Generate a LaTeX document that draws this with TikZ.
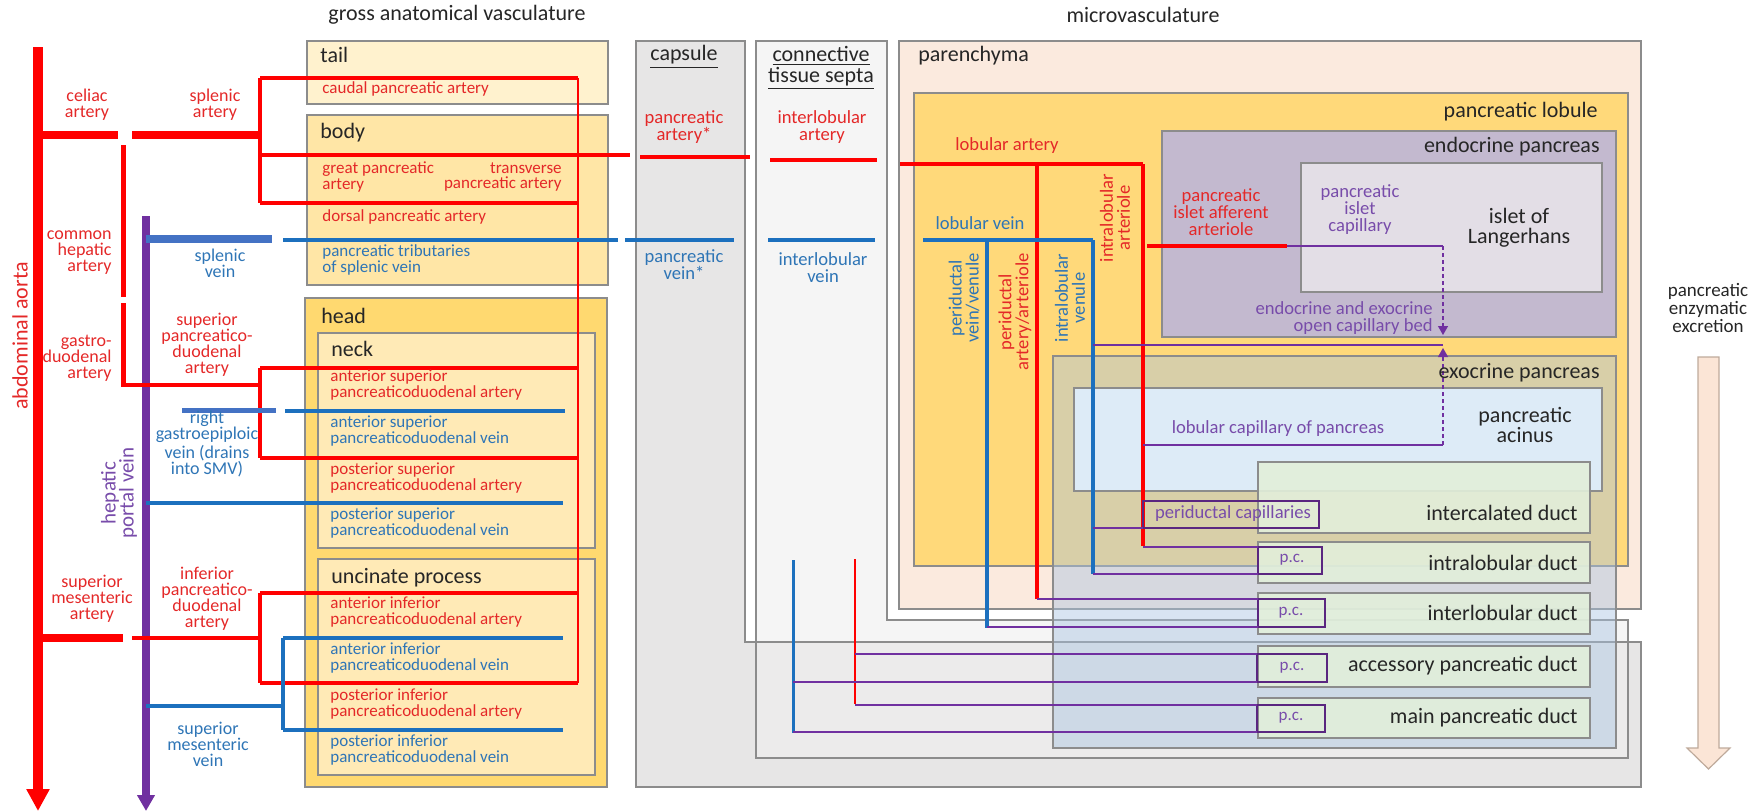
\documentclass[tikz,border=0pt]{standalone}
\usepackage{fontspec}
\setmainfont{Carlito}
\usetikzlibrary{arrows.meta,positioning,calc}
%% colours
\definecolor{artred}{RGB}{255,0,0}
\definecolor{artlbl}{RGB}{228,40,40}
\definecolor{vnblue}{RGB}{28,112,190}
\definecolor{vnthick}{RGB}{68,114,196}
\definecolor{vnlbl}{RGB}{46,117,182}
\definecolor{cappur}{RGB}{112,48,160}
\definecolor{caplbl}{RGB}{120,76,170}
\definecolor{boxline}{RGB}{140,140,140}
\definecolor{tailfill}{RGB}{255,242,206}
\definecolor{bodyfill}{RGB}{255,230,166}
\definecolor{headfill}{RGB}{255,217,112}
\definecolor{neckfill}{RGB}{255,234,182}
\definecolor{capsfill}{RGB}{231,230,230}
\definecolor{septfill}{RGB}{239,239,239}
\definecolor{parfill}{RGB}{251,234,222}
\definecolor{lobfill}{RGB}{255,217,122}
\definecolor{endofill}{RGB}{195,185,207}
\definecolor{isletfill}{RGB}{227,222,230}
\definecolor{exofill}{RGB}{169,196,226}
\definecolor{acinfill}{RGB}{221,235,247}
\definecolor{ductfill}{RGB}{226,239,218}
\definecolor{excrfill}{RGB}{251,229,214}
\definecolor{excrline}{RGB}{190,170,155}
\newcommand{\pcd}{pancreaticoduodenal}

\begin{document}
\begin{tikzpicture}
[x=0.5pt,y=-0.5pt,
 region/.style={draw=boxline,line width=0.6pt},
 ttl/.style={inner sep=0pt,font=\fontsize{11}{10}\selectfont,text=black!85},
 vlbl/.style={inner sep=0pt,font=\fontsize{9}{8}\selectfont,align=center},
 blbl/.style={inner sep=0pt,font=\fontsize{8.5}{7.6}\selectfont,anchor=west,align=left},
 mlbl/.style={inner sep=0pt,font=\fontsize{9.3}{8.5}\selectfont,align=center},
 artxt/.style={text=artlbl},
 vntxt/.style={text=vnlbl},
 cptxt/.style={text=caplbl},
 artery/.style={draw=artred,line width=1.7pt},
 vein/.style={draw=vnblue,line width=1.7pt},
 capil/.style={draw=cappur,line width=0.6pt},
 pcbox/.style={draw=cappur!80!black,line width=0.6pt}]
\useasboundingbox (0,0) rectangle (1762,811);
%%
%% microvasculature regions
\path[region,fill=capsfill] (636,41) -- (745,41) -- (745,642) -- (1641,642) -- (1641,787) -- (636,787) -- cycle;
\path[region,fill=septfill,fill opacity=0.64] (756,41) -- (887,41) -- (887,620) -- (1628,620) -- (1628,758) -- (756,758) -- cycle;
\draw[region] (756,642) -- (1628,642);
\path[region,fill=parfill] (899,41) rectangle (1641,609);
\path[region,fill=lobfill] (914,93) rectangle (1628,566);
\path[region,fill=endofill] (1162,131) rectangle (1616,337);
\path[region,fill=isletfill] (1301,163) rectangle (1602,292);
\path[region,fill=exofill,fill opacity=0.45] (1053,356) rectangle (1616,748);
\path[region,fill=acinfill] (1074,388) rectangle (1602,491);
\foreach \ya/\yb in {462/533,542/583,593/634,646/687,698/738}
  \path[region,fill=ductfill,fill opacity=0.9] (1258,\ya) rectangle (1590,\yb);
%% gross anatomy regions
\path[region,fill=tailfill] (307,41) rectangle (608,104);
\path[region,fill=bodyfill] (307,115) rectangle (608,285);
\path[region,fill=headfill] (305,298) rectangle (607,787);
\path[region,fill=neckfill] (318,333) rectangle (595,548);
\path[region,fill=neckfill] (318,559) rectangle (595,775);
%%
%% aorta and portal vein
\draw[artery,line width=5pt,-{Triangle[width=11pt,length=11pt]}] (38,47) -- (38,811);
\draw[draw=cappur,line width=4pt,-{Triangle[width=8.5pt,length=8pt]}] (146,216) -- (146,811);
%% celiac trunk
\draw[artery,line width=4pt] (38,135) -- (118,135);
\draw[artery,line width=4pt] (132,135) -- (260,135);
\draw[artery] (260,78) -- (260,203);
\foreach \yy in {78,203} \draw[artery] (260,\yy) -- (578,\yy);
\draw[artery] (260,155) -- (630,155);
\draw[artery,line width=0.8pt] (578,78) -- (578,683);
\draw[artery,line width=2.5pt] (123,145) -- (123,297);
\draw[artery,line width=2.5pt] (123,303) -- (123,387);
\draw[artery,line width=2pt] (123,385) -- (260,385);
\draw[artery] (260,368) -- (260,458);
\foreach \yy in {368,458} \draw[artery] (260,\yy) -- (578,\yy);
%% superior mesenteric artery
\draw[artery,line width=4pt] (38,638) -- (123,638);
\draw[artery,line width=2pt] (132,638) -- (260,638);
\draw[artery] (260,593) -- (260,683);
\foreach \yy in {593,683} \draw[artery] (260,\yy) -- (578,\yy);
%% veins
\draw[draw=vnthick,line width=4pt] (146,239) -- (272,239);
\draw[vein] (283,240) -- (618,240);
\draw[draw=vnthick,line width=2.5pt] (182,410) -- (276,410);
\draw[vein] (285,411) -- (565,411);
\draw[vein] (146,503) -- (563,503);
\draw[vein] (146,706) -- (283,706);
\draw[vein] (283,638) -- (283,730);
\foreach \yy in {638,730} \draw[vein] (283,\yy) -- (563,\yy);
%%
%% capsule and septa vessels
\draw[artery,line width=2pt] (640,157) -- (750,157);
\draw[artery,line width=2pt] (770,160) -- (877,160);
\draw[vein,line width=2pt] (625,240) -- (734,240);
\draw[vein,line width=2pt] (768,240) -- (875,240);
\draw[vein,line width=1.5pt] (793,560) -- (793,733);
\draw[artery,line width=1pt] (855,559) -- (855,704);
%% lobule vessels
\draw[artery,line width=2pt] (900,164) -- (1143,164);
\draw[artery,line width=2pt] (1037,164) -- (1037,599);
\draw[artery,line width=2pt] (1143,164) -- (1143,546);
\draw[vein,line width=2pt] (923,240) -- (1093,240);
\draw[vein,line width=2pt] (987,240) -- (987,628);
\draw[vein,line width=2pt] (1093,240) -- (1093,574);
\draw[artery,line width=2pt] (1147,246) -- (1287,246);
%% capillaries
\draw[capil] (1287,246) -- (1443,246);
\draw[capil,dash pattern=on 2pt off 1.5pt,-{Triangle[width=5pt,length=4.5pt]}] (1443,246) -- (1443,335);
\draw[capil,dash pattern=on 2pt off 1.5pt,-{Triangle[width=5pt,length=4.5pt]}] (1443,445) -- (1443,348);
\draw[capil] (1093,345) -- (1443,345);
\draw[capil] (1143,445) -- (1443,445);
\draw[pcbox] (1143,501) rectangle (1319,528);
\draw[capil] (1093,528) -- (1143,528);
\draw[pcbox] (1258,547) rectangle (1322,574);
\draw[capil] (1143,547) -- (1258,547);
\draw[capil] (1093,574) -- (1258,574);
\draw[pcbox] (1258,599) rectangle (1325,627);
\draw[capil] (1037,599) -- (1258,599);
\draw[capil] (987,627) -- (1258,627);
\draw[pcbox] (1257,654) rectangle (1327,682);
\draw[capil] (855,654) -- (1257,654);
\draw[capil] (793,682) -- (1257,682);
\draw[pcbox] (1257,705) rectangle (1325,732);
\draw[capil] (855,705) -- (1257,705);
\draw[capil] (793,732) -- (1257,732);
%% excretion arrow
\path[draw=excrline,line width=0.6pt,fill=excrfill] (1698,357) -- (1719,357) -- (1719,748) -- (1730,748) -- (1708.5,769) -- (1687,748) -- (1698,748) -- cycle;
%%
%% headings
\node[ttl] (gav) at (457,15) {gross anatomical vasculature};
\node[ttl] (mv) at (1143,15) {microvasculature};
\node[ttl] (caps) at (684,57) {\underline{capsule}};
\node[ttl,align=center,font=\fontsize{11}{10.5}\selectfont] (sept) at (821,68) {\underline{connective}\\\underline{tissue septa}};
\node[ttl,anchor=west] (par) at (918,56) {parenchyma};
\node[ttl,anchor=east] (lob) at (1598,112) {pancreatic lobule};
\node[ttl,anchor=east] (endo) at (1600,147) {endocrine pancreas};
\node[ttl,align=center] (islet) at (1519,228) {islet of\\Langerhans};
\node[ttl,anchor=east] (exo) at (1600,373) {exocrine pancreas};
\node[ttl,align=center] (acin) at (1525,425) {pancreatic\\acinus};
\node[ttl,anchor=east] (icd) at (1578,513) {intercalated duct};
\node[ttl,anchor=east] (ild) at (1578,563) {intralobular duct};
\node[ttl,anchor=east] (itd) at (1578,613) {interlobular duct};
\node[ttl,anchor=east] (apd) at (1578,666) {accessory pancreatic duct};
\node[ttl,anchor=east] (mpd) at (1578,718) {main pancreatic duct};
\node[ttl,align=center,font=\fontsize{9.5}{9}\selectfont] (excr) at (1708,308) {pancreatic\\enzymatic\\excretion};
%% gross anatomy labels
\node[ttl,anchor=west] (tail) at (320,55) {tail};
\node[ttl,anchor=west] (body) at (320,133) {body};
\node[ttl,anchor=west] (head) at (321,316) {head};
\node[ttl,anchor=west] (neck) at (331,349) {neck};
\node[ttl,anchor=west] (unc) at (331,578) {uncinate process};
\node[blbl,artxt] (cpa) at (322,89) {caudal pancreatic artery};
\node[blbl,artxt] (gpa) at (322,177) {great pancreatic\\artery};
\node[blbl,artxt,anchor=east,align=right] (tpa) at (562,177) {transverse\\pancreatic artery};
\node[blbl,artxt] (dpa) at (322,217) {dorsal pancreatic artery};
\node[blbl,vntxt] (pts) at (322,260) {pancreatic tributaries\\of splenic vein};
\node[blbl,artxt] (aspa) at (330,385) {anterior superior\\\pcd{} artery};
\node[blbl,vntxt] (aspv) at (330,431) {anterior superior\\\pcd{} vein};
\node[blbl,artxt] (pspa) at (330,478) {posterior superior\\\pcd{} artery};
\node[blbl,vntxt] (pspv) at (330,523) {posterior superior\\\pcd{} vein};
\node[blbl,artxt] (aipa) at (330,612) {anterior inferior\\\pcd{} artery};
\node[blbl,vntxt] (aipv) at (330,658) {anterior inferior\\\pcd{} vein};
\node[blbl,artxt] (pipa) at (330,704) {posterior inferior\\\pcd{} artery};
\node[blbl,vntxt] (pipv) at (330,750) {posterior inferior\\\pcd{} vein};
%% vessel labels, left
\node[ttl,artxt,rotate=90] (aorta) at (20,336) {abdominal aorta};
\node[vlbl,cptxt,rotate=90,font=\fontsize{10.5}{9}\selectfont] (hpv) at (119,493) {hepatic\\portal vein};
\node[vlbl,artxt] (cel) at (87,105) {celiac\\artery};
\node[vlbl,artxt] (spa) at (215,105) {splenic\\artery};
\node[vlbl,artxt,anchor=east,align=right] (cha) at (112,253) {common\\hepatic\\artery};
\node[vlbl,artxt,anchor=east,align=right] (gda) at (112,358) {gastro-\\duodenal\\artery};
\node[vlbl,vntxt] (spv) at (220,263) {splenic\\vein};
\node[vlbl,artxt] (spda) at (207,345) {superior\\pancreatico-\\duodenal\\artery};
\node[vlbl,vntxt] (rgv) at (207,444) {right\\gastroepiploic\\vein (drains\\into SMV)};
\node[vlbl,artxt] (sma) at (92,599) {superior\\mesenteric\\artery};
\node[vlbl,artxt] (ipda) at (207,599) {inferior\\pancreatico-\\duodenal\\artery};
\node[vlbl,vntxt] (smv) at (208,744) {superior\\mesenteric\\vein};
%% vessel labels, microvasculature
\node[mlbl,artxt] (pa) at (684,127) {pancreatic\\artery*};
\node[mlbl,vntxt] (pv) at (684,265) {pancreatic\\vein*};
\node[mlbl,artxt] (ila) at (822,127) {interlobular\\artery};
\node[mlbl,vntxt] (ilv) at (823,268) {interlobular\\vein};
\node[mlbl,artxt] (loba) at (1007,146) {lobular artery};
\node[mlbl,vntxt] (lobv) at (980,223) {lobular vein};
\node[mlbl,artxt,rotate=90] (iart) at (1115,218) {intralobular\\arteriole};
\node[mlbl,vntxt,rotate=90] (pdv) at (964,298) {periductal\\vein/venule};
\node[mlbl,artxt,rotate=90] (pda) at (1015,312) {periductal\\artery/arteriole};
\node[mlbl,vntxt,rotate=90] (ivn) at (1070,298) {intralobular\\venule};
\node[mlbl,artxt] (iaa) at (1221,212) {pancreatic\\islet afferent\\arteriole};
\node[mlbl,cptxt] (icap) at (1360,210) {pancreatic\\islet\\capillary};
\node[mlbl,cptxt,anchor=east,align=right] (bed) at (1433,318) {endocrine and exocrine\\open capillary bed};
\node[mlbl,cptxt] (lcap) at (1278,429) {lobular capillary of pancreas};
\node[mlbl,cptxt] (pdc) at (1233,514) {periductal capillaries};
\node[mlbl,cptxt,font=\fontsize{8.5}{8}\selectfont] (pc1) at (1292,560) {p.c.};
\node[mlbl,cptxt,font=\fontsize{8.5}{8}\selectfont] (pc2) at (1291,613) {p.c.};
\node[mlbl,cptxt,font=\fontsize{8.5}{8}\selectfont] (pc3) at (1292,668) {p.c.};
\node[mlbl,cptxt,font=\fontsize{8.5}{8}\selectfont] (pc4) at (1291,718) {p.c.};
\end{tikzpicture}
\end{document}
